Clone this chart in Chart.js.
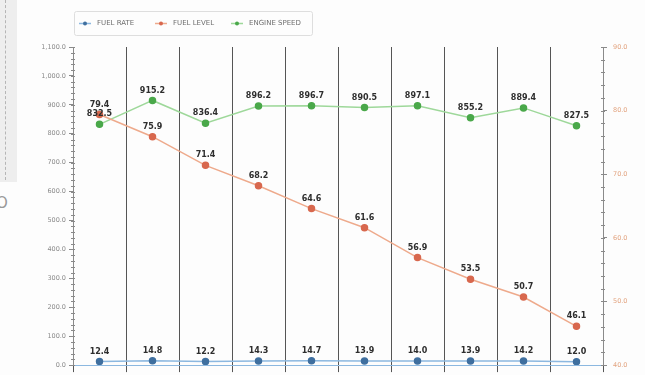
<!DOCTYPE html>
<html>
<head>
<meta charset="utf-8">
<script src="https://cdn.jsdelivr.net/npm/chart.js@4/dist/chart.umd.min.js"></script>
<style>
  html, body { margin: 0; padding: 0; background: #fdfdfd; }
  #wrap { position: relative; width: 645px; height: 375px; overflow: hidden; }
  #side { position: absolute; left: 0; top: 0; width: 17px; height: 182px; background: #eeeeee; }
  #side:before { content: ""; position: absolute; left: 5px; top: 0; height: 180px; border-left: 1px dashed #b5b5b5; }
  #sideMark { position: absolute; left: -4px; top: 194px; font: 15px "DejaVu Sans", sans-serif; color: #999; }
  canvas { position: absolute; left: 0; top: 0; }
</style>
</head>
<body>
<div id="wrap">
  <div id="side"></div>
  <div id="sideMark">O</div>
  <canvas id="c" width="645" height="375"></canvas>
</div>
<script>
// Ten readings per series
const categories = ['1', '2', '3', '4', '5', '6', '7', '8', '9', '10'];
const fuelRate = [12.4, 14.8, 12.2, 14.3, 14.7, 13.9, 14.0, 13.9, 14.2, 12.0];
const fuelLevel = [79.4, 75.9, 71.4, 68.2, 64.6, 61.6, 56.9, 53.5, 50.7, 46.1];
const engineSpeed = [832.5, 915.2, 836.4, 896.2, 896.7, 890.5, 897.1, 855.2, 889.4, 827.5];
const seriesNames = ['FUEL RATE', 'FUEL LEVEL', 'ENGINE SPEED'];

const lineColors = ['#8cb8e0', '#eeaa8c', '#9ed89a'];
const pointColors = ['#3f6f9f', '#d8684e', '#4aa84a'];

const fmt1 = v => v.toLocaleString('en-US', { minimumFractionDigits: 1, maximumFractionDigits: 1 });

// Value labels above each point
const valueLabels = {
  id: 'valueLabels',
  afterDatasetsDraw(chart) {
    const ctx = chart.ctx;
    ctx.save();
    ctx.font = 'bold 8px "DejaVu Sans", sans-serif';
    ctx.fillStyle = '#2e2e2e';
    ctx.textAlign = 'center';
    ctx.textBaseline = 'bottom';
    chart.data.datasets.forEach((ds, i) => {
      chart.getDatasetMeta(i).data.forEach((pt, j) => {
        ctx.fillText(fmt1(ds.data[j]), pt.x, pt.y - 6);
      });
    });
    ctx.restore();
  }
};

// Minor tick marks along both value axes
const minorTicks = {
  id: 'minorTicks',
  afterDraw(chart) {
    const ctx = chart.ctx;
    ctx.save();
    ctx.strokeStyle = '#8a8a8a';
    ctx.lineWidth = 1;
    const y = chart.scales.y, y1 = chart.scales.y1;
    for (let v = 0; v <= 1100; v += 20) {
      const p = Math.round(y.getPixelForValue(v)) + 0.5;
      ctx.beginPath(); ctx.moveTo(y.right - 2, p); ctx.lineTo(y.right + 2, p); ctx.stroke();
    }
    for (let v = 40; v <= 90; v += 2) {
      const p = Math.round(y1.getPixelForValue(v)) + 0.5;
      ctx.beginPath(); ctx.moveTo(y1.left - 2, p); ctx.lineTo(y1.left + 2, p); ctx.stroke();
    }
    ctx.restore();
  }
};

// Boxed legend across the top
const boxLegend = {
  id: 'boxLegend',
  afterDraw(chart) {
    const ctx = chart.ctx;
    ctx.save();
    ctx.strokeStyle = '#dedede';
    ctx.fillStyle = '#fdfdfd';
    ctx.lineWidth = 1;
    ctx.beginPath();
    ctx.roundRect(74.5, 11.5, 238, 24, 2);
    ctx.fill();
    ctx.stroke();
    const items = [85, 161, 237];
    ctx.font = '7px "DejaVu Sans", sans-serif';
    ctx.textBaseline = 'middle';
    ctx.textAlign = 'left';
    items.forEach((x, i) => {
      ctx.strokeStyle = lineColors[i];
      ctx.lineWidth = 1.5;
      ctx.beginPath(); ctx.moveTo(x - 6, 23.5); ctx.lineTo(x + 6, 23.5); ctx.stroke();
      ctx.fillStyle = pointColors[i];
      ctx.beginPath(); ctx.arc(x, 23.5, 2, 0, Math.PI * 2); ctx.fill();
      ctx.fillStyle = '#6e6e6e';
      ctx.fillText(seriesNames[i], x + 12, 23.5);
    });
    ctx.restore();
  }
};

function ds(label, data, i, axis) {
  return {
    label, data, yAxisID: axis,
    borderColor: lineColors[i], borderWidth: 1.5,
    pointBackgroundColor: pointColors[i], pointBorderColor: pointColors[i],
    pointRadius: 3, pointHoverRadius: 3, tension: 0
  };
}

new Chart(document.getElementById('c'), {
  type: 'line',
  data: {
    labels: categories,
    datasets: [
      ds(seriesNames[0], fuelRate, 0, 'y'),
      ds(seriesNames[1], fuelLevel, 1, 'y1'),
      ds(seriesNames[2], engineSpeed, 2, 'y')
    ]
  },
  options: {
    responsive: false,
    animation: false,
    devicePixelRatio: 1,
    layout: { padding: { top: 47, left: 0, right: 0, bottom: 0 } },
    plugins: { legend: { display: false }, tooltip: { enabled: false } },
    scales: {
      x: {
        offset: true,
        grid: { offset: true, color: '#555555', lineWidth: 1, tickLength: 7, drawOnChartArea: true },
        border: { display: true, color: '#8cb8e0' },
        ticks: { display: false },
        afterFit(s) { s.height = 9; }
      },
      y: {
        position: 'left', min: 0, max: 1100,
        ticks: { stepSize: 100, callback: v => fmt1(v), color: '#8a8a8a', font: { size: 6.5, family: '"DejaVu Sans", sans-serif' }, padding: 3 },
        grid: { drawOnChartArea: false, color: '#8a8a8a', tickLength: 4 },
        border: { color: '#8a8a8a' },
        afterFit(s) { s.width = 73; }
      },
      y1: {
        position: 'right', min: 40, max: 90,
        ticks: { stepSize: 10, callback: v => fmt1(v), color: '#e2a37f', font: { size: 6.5, family: '"DejaVu Sans", sans-serif' }, padding: 6 },
        grid: { drawOnChartArea: false, color: '#8a8a8a', tickLength: 4 },
        border: { color: '#8a8a8a' },
        afterFit(s) { s.width = 42; }
      }
    }
  },
  plugins: [valueLabels, minorTicks, boxLegend]
});
</script>
</body>
</html>
